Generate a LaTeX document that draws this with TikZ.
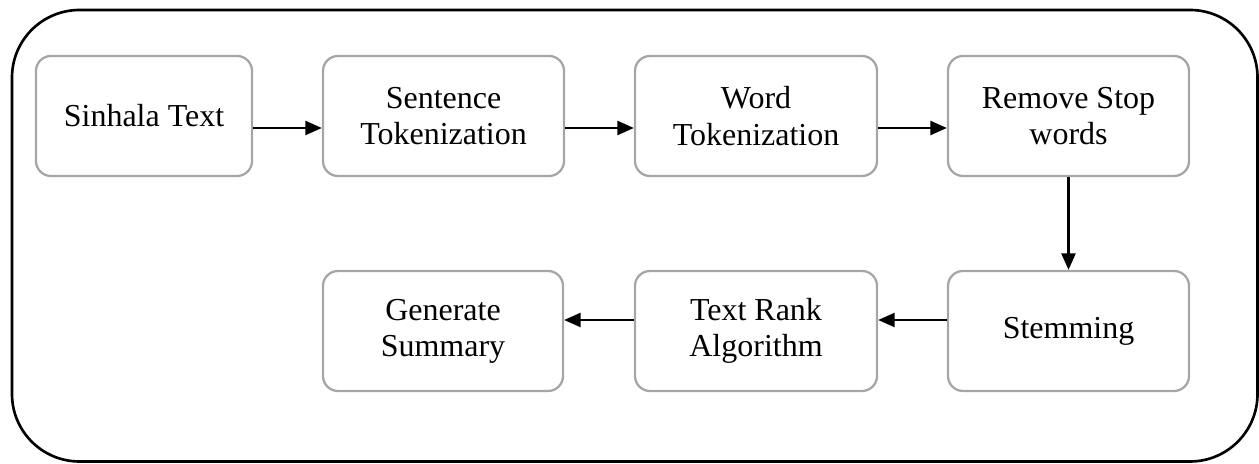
\documentclass[tikz,border=0pt]{standalone}
\usepackage{fontspec}
\setmainfont{Liberation Serif}
\usetikzlibrary{arrows.meta}
\tikzset{
  stepbox/.style={draw=black!35, line width=1.3pt, rounded corners=0.3cm,
    minimum height=2.4cm, align=center, font=\fontsize{18.2}{20.6}\selectfont},
  arr/.style={-{Triangle[length=0.33cm,width=0.28cm]}, line width=1.4pt}
}
\begin{document}
\begin{tikzpicture}
\useasboundingbox (0,0) rectangle (25.18,-9.28);
\draw[line width=1.5pt, rounded corners=1.35cm] (0.24,-0.2) rectangle (25.15,-9.23);
% top row
\node[stepbox, minimum width=4.32cm] (txt) at(2.88,-2.32) {Sinhala Text};
\node[stepbox, minimum width=4.82cm] (sent) at(8.87,-2.32) {Sentence\\Tokenization};
\node[stepbox, minimum width=4.84cm] (word) at(15.12,-2.32) {Word\\Tokenization};
\node[stepbox, minimum width=4.82cm] (stop) at(21.37,-2.32) {Remove Stop\\words};
% bottom row
\node[stepbox, minimum width=4.82cm] (stem) at(21.37,-6.62) {Stemming};
\node[stepbox, minimum width=4.84cm] (rank) at(15.12,-6.62) {Text Rank\\Algorithm};
\node[stepbox, minimum width=4.8cm] (summ) at(8.86,-6.62) {Generate\\Summary};
\draw[arr] ([yshift=-0.24cm]txt.east) -- ([yshift=-0.24cm]sent.west);
\draw[arr] ([yshift=-0.24cm]sent.east) -- ([yshift=-0.24cm]word.west);
\draw[arr] ([yshift=-0.24cm]word.east) -- ([yshift=-0.24cm]stop.west);
\draw[arr] (stop.south) -- (stem.north);
\draw[arr] ([yshift=0.22cm]stem.west) -- ([yshift=0.22cm]rank.east);
\draw[arr] ([yshift=0.22cm]rank.west) -- ([yshift=0.22cm]summ.east);
\end{tikzpicture}
\end{document}
